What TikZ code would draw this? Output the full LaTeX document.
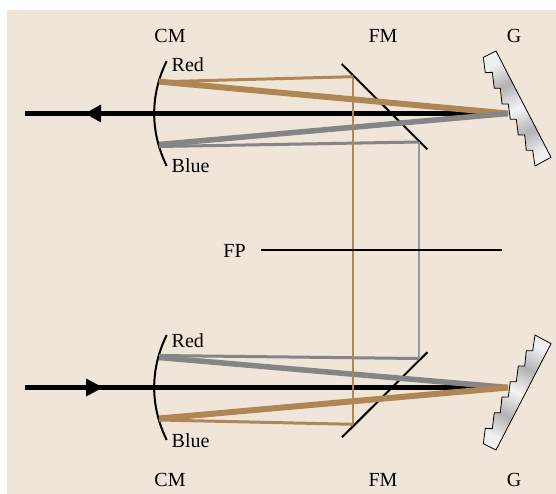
\documentclass[tikz,border=0pt]{standalone}
\usepackage{fontspec}
\setmainfont{Liberation Serif}
\definecolor{bgc}{HTML}{EFE6D9}
\definecolor{brownray}{HTML}{B08654}
\definecolor{grayray}{HTML}{858585}
\definecolor{graythin}{HTML}{989898}
\pgfdeclareverticalshading{gratingshade}{100bp}{color(0bp)=(black!6); color(25bp)=(black!6); color(37bp)=(black!30); color(50bp)=(black!4); color(63bp)=(black!30); color(75bp)=(black!6); color(100bp)=(black!6)}
\tikzset{
  lbl/.style={anchor=base,inner sep=0pt,font=\fontsize{20}{24}\selectfont},
  lbll/.style={lbl,anchor=base west},
  mirrorline/.style={draw=black,line width=2pt},
  beamline/.style={draw=black,line width=5.5pt},
  mainbrown/.style={draw=brownray,line width=6pt},
  maingray/.style={draw=grayray,line width=5.5pt},
  foldbrown/.style={draw=brownray,line width=3pt},
  foldgray/.style={draw=grayray,line width=3pt},
  vertbrown/.style={draw=brownray,line width=1.2pt},
  vertgray/.style={draw=graythin,line width=2pt},
  grating/.style={draw=black,line width=0.8pt,line join=miter,shading=gratingshade},
  head/.style={fill=black,draw=none}
}
\begin{document}
\begin{tikzpicture}[x=1pt,y=-1pt]
\useasboundingbox (0,0) rectangle (556,494);
\fill[bgc] (7,10) rectangle (556,494);
% named points
\coordinate (tbl) at (25,113.5); \coordinate (tbr) at (480,113.5);
\coordinate (bbl) at (25,387.5); \coordinate (bbr) at (480,387.5);
\coordinate (tg) at (508,113.5); \coordinate (bg) at (508,387.5);
\coordinate (tcr) at (159,81.6); \coordinate (tcb) at (159,144.5);
\coordinate (bcr) at (159,418.5); \coordinate (bcb) at (159,357.5);
\coordinate (tcr2) at (159,81.8); \coordinate (tcb2) at (159,146.5);
\coordinate (bcr2) at (159,420); \coordinate (bcb2) at (159,355.5);
\coordinate (tfr) at (353,76.7); \coordinate (tfb) at (418.5,142);
\coordinate (bfr) at (353,424.3); \coordinate (bfb) at (418.5,358.5);
\coordinate (fm1a) at (341.7,64); \coordinate (fm1b) at (427.3,149.3);
\coordinate (fm2a) at (427.3,352.3); \coordinate (fm2b) at (342,437.3);
\coordinate (fpa) at (261,250); \coordinate (fpb) at (502,250);
% beams
\draw[beamline] (tbl) -- (tbr);
\draw[beamline] (bbl) -- (bbr);
\fill[head] (85,113.5) -- (101,104.5) -- (101,122.5) -- cycle;
\fill[head] (103,387.5) -- (86,378.5) -- (86,396.5) -- cycle;
% collimator mirrors
\draw[mirrorline] (166.7,61) .. controls (150,95) and (150,132) .. (166.7,166);
\draw[mirrorline] (166.7,335) .. controls (150,369) and (150,406) .. (166.7,440);
% fold mirrors
\draw[mirrorline] (fm1a) -- (fm1b);
\draw[mirrorline] (fm2a) -- (fm2b);
% verticals
\draw[vertgray] (tfb) -- (bfb);
% thin rays
\draw[foldgray] (tcb2) -- (tfb);
\draw[foldgray] (bcb2) -- (bfb);
\draw[foldbrown] (tcr2) -- (tfr);
\draw[foldbrown] (bcr2) -- (bfr);
% thick rays
\draw[mainbrown] (tcr) -- (tg);
\draw[maingray] (tcb) -- (tg);
\draw[maingray] (bcb) -- (bg);
\draw[mainbrown] (bcr) -- (bg);
\draw[vertbrown] (tfr) -- (bfr);
% gratings
\path[grating,shading angle=27] (483.3,57.3) -- (496,51) -- (551,157.3) -- (535,166) -- (532.7,150.3) -- (526.3,150.3) -- (524.7,135) -- (518.3,135) -- (516.3,119.3) -- (510.3,119.3) -- (508.3,104) -- (502,104) -- (500.3,88.3) -- (494.3,88.3) -- (492.3,72.3) -- (485.3,72.7) -- cycle;
\path[grating,shading angle=-27] (483.3,443.7) -- (496,450) -- (551,343.7) -- (535,335) -- (532.7,350.7) -- (526.3,350.7) -- (524.7,366) -- (518.3,366) -- (516.3,381.7) -- (510.3,381.7) -- (508.3,397) -- (502,397) -- (500.3,412.7) -- (494.3,412.7) -- (492.3,428.7) -- (485.3,428.3) -- cycle;
% focal plane
\draw[draw=black,line width=1.5pt] (fpa) -- (fpb);
% labels
\node[lbl] (cm1) at (170,43) {CM};
\node[lbl] (fm1) at (383,43) {FM};
\node[lbl] (g1) at (514,43) {G};
\node[lbl] (cm2) at (170,486) {CM};
\node[lbl] (fm2) at (383,486) {FM};
\node[lbl] (g2) at (514,486) {G};
\node[lbll] (r1) at (171.5,72) {Red};
\node[lbll] (b1) at (171.5,172.3) {Blue};
\node[lbll] (r2) at (171.5,347.3) {Red};
\node[lbll] (b2) at (171.5,447.7) {Blue};
\node[lbl] (fp) at (234.5,257) {FP};
\end{tikzpicture}
\end{document}
